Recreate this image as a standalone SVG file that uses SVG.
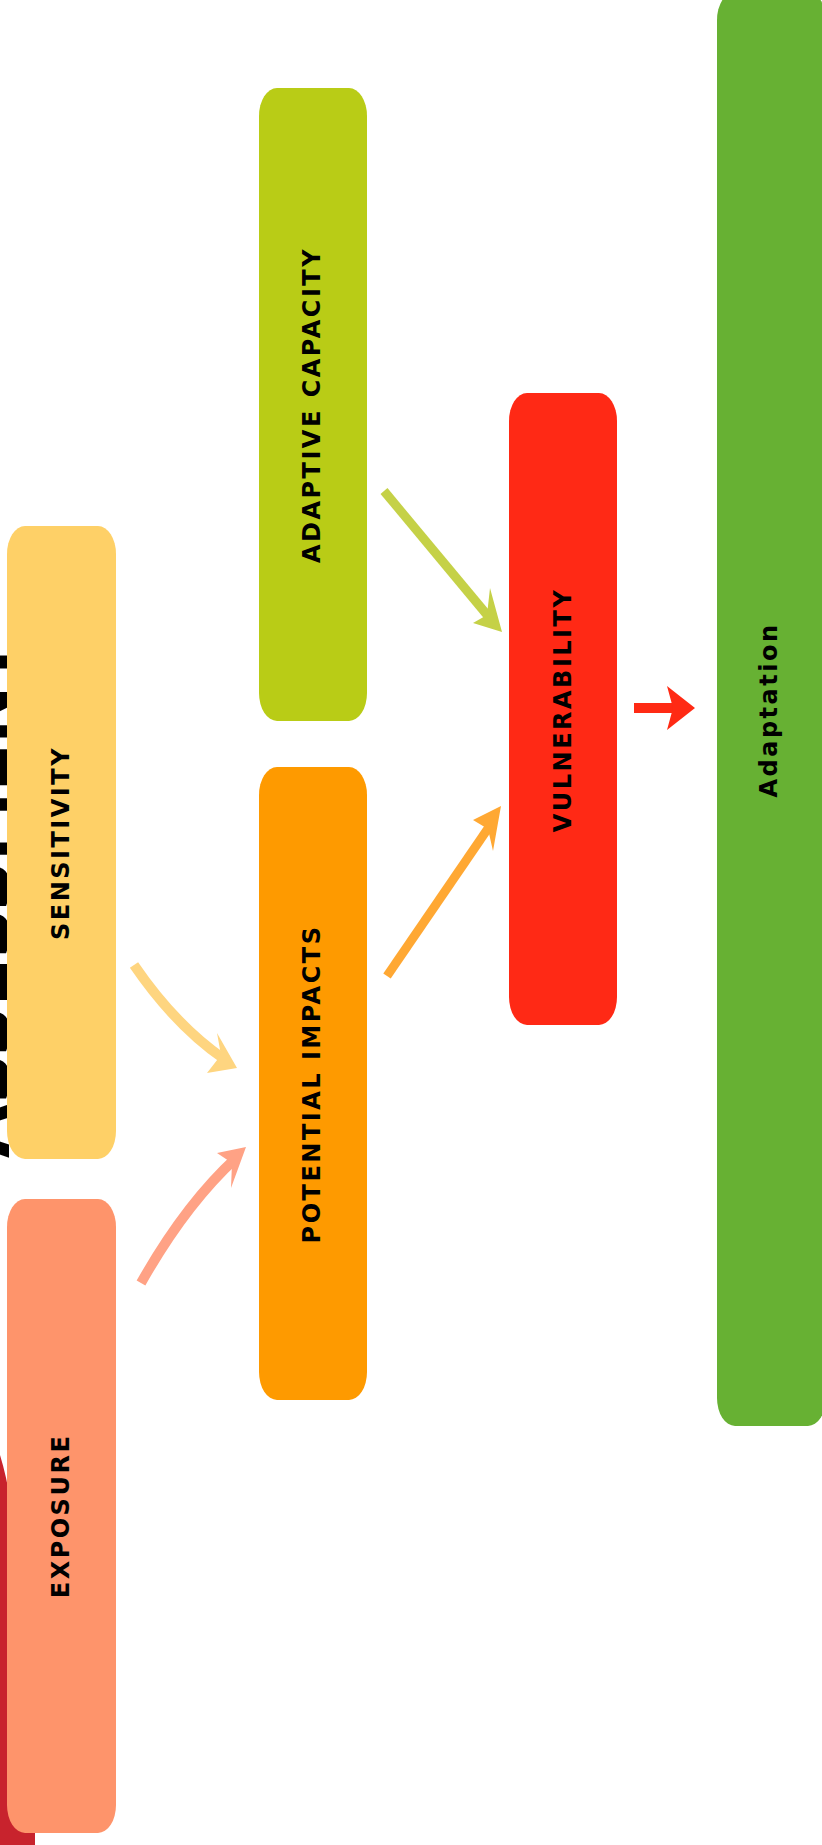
<svg xmlns="http://www.w3.org/2000/svg" width="822" height="1845" viewBox="0 0 822 1845">
<style>
.lbl{font-family:"DejaVu Sans",sans-serif;font-weight:bold;font-size:24px;letter-spacing:2.5px;fill:#000;text-anchor:middle}
.ln{fill:none;stroke-linecap:butt}
</style>
<rect x="0" y="0" width="822" height="1845" fill="#fff"/>
<g id="background">
<text transform="translate(9,1158) rotate(-90)" font-family="DejaVu Sans, sans-serif" font-weight="bold" font-size="74" textLength="520" lengthAdjust="spacingAndGlyphs" fill="#000">ASSESSMENT</text>
<path d="M0,1455 Q7,1478 10,1500 L35,1500 L35,1845 L0,1845 Z" fill="#C8232D"/>
</g>
<g id="node-sensitivity">
<rect x="7" y="526" width="109" height="633" rx="18" ry="28" fill="#FED067"/>
<text class="lbl" transform="translate(69,843) rotate(-90)">SENSITIVITY</text>
</g>
<g id="node-exposure">
<rect x="7" y="1199" width="109" height="634" rx="18" ry="28" fill="#FE946B"/>
<text class="lbl" transform="translate(69,1516) rotate(-90)">EXPOSURE</text>
</g>
<g id="node-adaptive-capacity">
<rect x="259" y="88" width="108" height="633" rx="18" ry="28" fill="#B9CC16"/>
<text class="lbl" transform="translate(320,405) rotate(-90)">ADAPTIVE CAPACITY</text>
</g>
<g id="node-potential-impacts">
<rect x="259" y="767" width="108" height="633" rx="18" ry="28" fill="#FE9A00"/>
<text class="lbl" transform="translate(320,1084) rotate(-90)">POTENTIAL IMPACTS</text>
</g>
<g id="node-vulnerability">
<rect x="509" y="393" width="108" height="632" rx="18" ry="28" fill="#FF2915"/>
<text class="lbl" transform="translate(571,710) rotate(-90)">VULNERABILITY</text>
</g>
<g id="node-adaptation">
<rect x="717" y="-8" width="109" height="1434" rx="18" ry="28" fill="#67B133"/>
<text class="lbl" transform="translate(777,710) rotate(-90)">Adaptation</text>
</g>
<g id="connectors">
<path class="ln" d="M134,965 Q175,1025 224,1059" stroke="#FED580" stroke-width="10"/>
<polygon points="237,1068 217,1033 221,1055 207,1073" fill="#FED580"/>
<path class="ln" d="M141,1283 Q185,1205 236,1158" stroke="#FFA285" stroke-width="10"/>
<polygon points="246,1147 231,1188 232,1163 217,1153" fill="#FFA285"/>
<path class="ln" d="M384,491 L488,616" stroke="#C5D147" stroke-width="9"/>
<polygon points="502,632 490,588 487,615 473,623" fill="#C5D147"/>
<path class="ln" d="M387,976 L489,827" stroke="#FFA833" stroke-width="9"/>
<polygon points="501,806 473,820 488,829 493,851" fill="#FFA833"/>
<path class="ln" d="M634,708 L674,708" stroke="#FF2A14" stroke-width="10"/>
<polygon points="695,708 667,686 673,708 667,730" fill="#FF2A14"/>
</g>
</svg>
